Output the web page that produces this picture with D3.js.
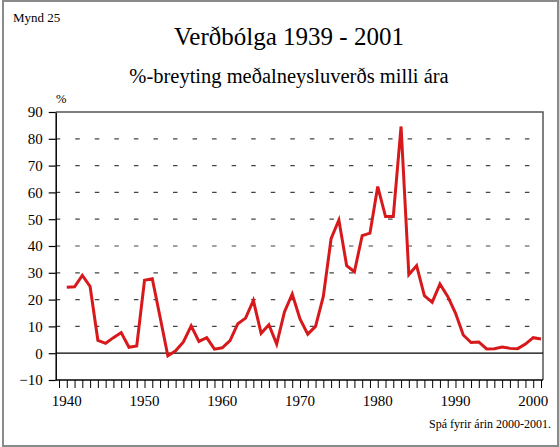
<!DOCTYPE html>
<html>
<head>
<meta charset="utf-8">
<script src="https://cdn.jsdelivr.net/npm/d3@7"></script>
<style>
  html, body { margin: 0; padding: 0; background: #fff; }
  svg { display: block; }
  svg text { font-family: "Liberation Serif", "Times New Roman", serif !important; fill: #000; }
</style>
</head>
<body>
<svg id="chart" width="559" height="447"></svg>
<script>
const years = d3.range(1940, 2002);
const inflation = [
  24.6, 24.8, 29.0, 24.9, 4.8, 3.7, 5.8, 7.7, 2.2, 2.7,
  27.2, 27.8, 13.5, -1.0, 0.9, 4.2, 10.2, 4.4, 5.8, 1.5,
  2.0, 4.7, 11.0, 13.1, 19.7, 7.4, 10.6, 3.4, 15.4, 22.1,
  12.8, 7.1, 10.0, 21.2, 42.7, 49.7, 32.7, 30.4, 43.9, 44.8,
  62.2, 51.0, 51.0, 84.6, 29.3, 32.7, 21.5, 19.0, 25.8, 21.2,
  15.0, 6.8, 4.0, 4.2, 1.6, 1.7, 2.3, 1.8, 1.7, 3.4,
  5.8, 5.3
];
const yTicks = [-10, 0, 10, 20, 30, 40, 50, 60, 70, 80, 90];
const xLabels = [1940, 1950, 1960, 1970, 1980, 1990, 2000];

const svg = d3.select('#chart');

// outer frame
svg.append('rect')
  .attr('x', 3).attr('y', 1).attr('width', 555).attr('height', 445)
  .attr('fill', 'none').attr('stroke', '#8a8a8a').attr('stroke-width', 2);

const pLeft = 55.7, pRight = 543, pTop = 112, pBottom = 380;
const x = d3.scaleLinear().domain([1939, 2001]).range([59, 541]);
const y = d3.scaleLinear().domain([-10, 90]).range([pBottom, pTop]);

// texts
svg.append('text').attr('x', 13).attr('y', 22).attr('font-size', 13).text('Mynd 25');
svg.append('text').attr('x', 289).attr('y', 45).attr('text-anchor', 'middle')
  .attr('font-size', 25).text('Verðbólga 1939 - 2001');
svg.append('text').attr('x', 289).attr('y', 83).attr('text-anchor', 'middle')
  .attr('font-size', 20.5).text('%-breyting meðalneysluverðs milli ára');
svg.append('text').attr('x', 56).attr('y', 103).attr('font-size', 12.5).text('%');
svg.append('text').attr('x', 551).attr('y', 428).attr('text-anchor', 'end')
  .attr('font-size', 12).text('Spá fyrir árin 2000-2001.');

// dashed grid
svg.append('g').selectAll('line')
  .data(yTicks.filter(d => d > 0 && d < 90))
  .join('line')
  .attr('x1', pLeft).attr('x2', pRight)
  .attr('y1', d => y(d)).attr('y2', d => y(d))
  .attr('stroke', '#444').attr('stroke-width', 1.2)
  .attr('stroke-dasharray', '4.5,15.05');

// top and right frame
svg.append('path')
  .attr('d', `M${pLeft},${pTop}H${pRight}V${pBottom}`)
  .attr('fill', 'none').attr('stroke', '#555').attr('stroke-width', 1.5);

// zero line
svg.append('line')
  .attr('x1', pLeft).attr('x2', pRight).attr('y1', y(0)).attr('y2', y(0))
  .attr('stroke', '#000').attr('stroke-width', 1.2);

// y axis
const yAxis = svg.append('g')
  .attr('transform', `translate(${pLeft},0)`)
  .call(d3.axisLeft(y).tickValues(yTicks).tickSize(7).tickPadding(6).tickSizeOuter(0));
yAxis.select('.domain').attr('stroke', '#000').attr('stroke-width', 1.5);
yAxis.selectAll('.tick line').attr('stroke', '#000').attr('stroke-width', 1.2);
yAxis.selectAll('text').attr('font-size', 15);

// x axis
const xAxis = svg.append('g')
  .attr('transform', `translate(0,${pBottom})`)
  .call(d3.axisBottom(x).tickValues(d3.range(1939, 2002)).tickSize(8).tickFormat(''));
xAxis.select('.domain').remove();
xAxis.selectAll('.tick line').attr('stroke', '#000').attr('stroke-width', 1);
svg.append('line').attr('x1', pLeft).attr('x2', pRight).attr('y1', pBottom).attr('y2', pBottom)
  .attr('stroke', '#000').attr('stroke-width', 1.5);

svg.append('g').selectAll('text')
  .data(xLabels).join('text')
  .attr('x', d => x(d)).attr('y', 406)
  .attr('text-anchor', 'middle').attr('font-size', 15)
  .text(d => d);

// line
const line = d3.line().x((d, i) => x(years[i])).y(d => y(d));
svg.append('path')
  .datum(inflation)
  .attr('d', line)
  .attr('fill', 'none')
  .attr('stroke', '#d7191c')
  .attr('stroke-width', 3)
  .attr('stroke-linejoin', 'miter');
</script>
</body>
</html>
